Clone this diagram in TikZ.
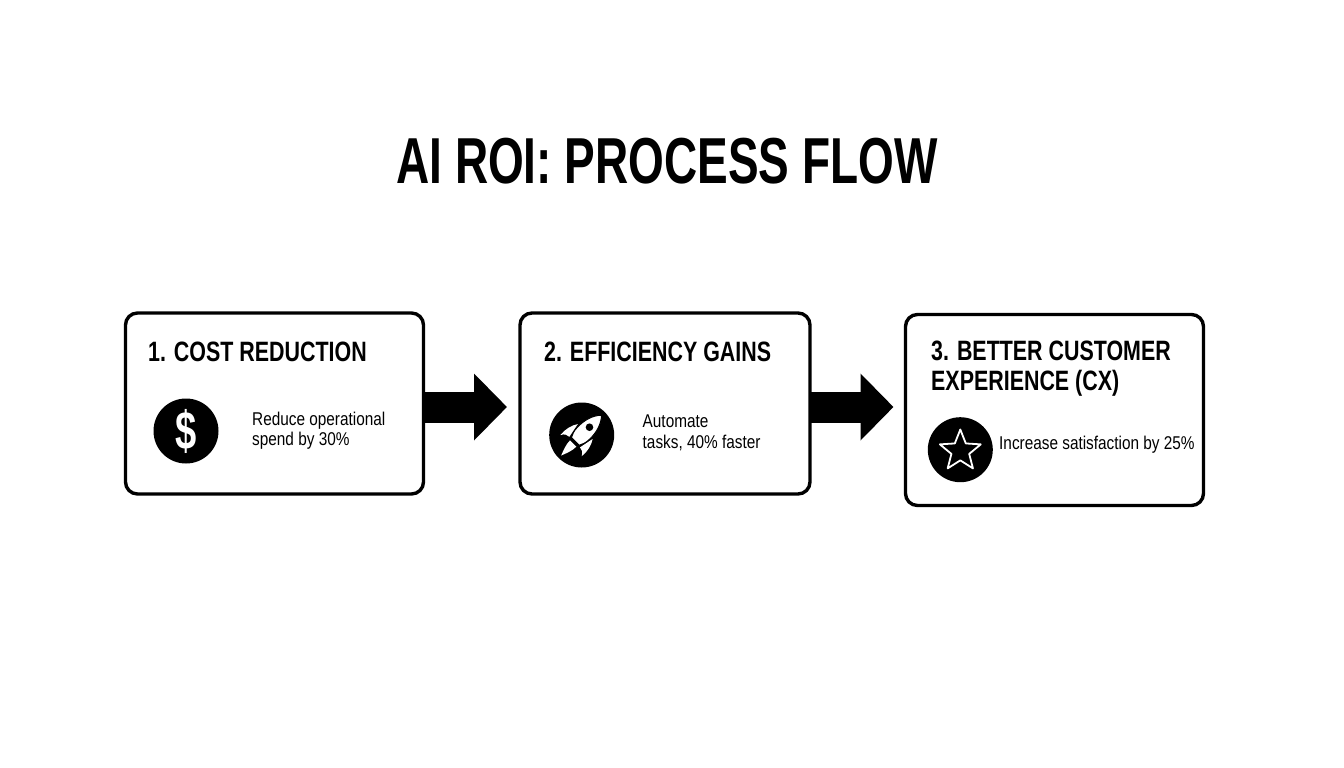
\documentclass[tikz,border=0pt]{standalone}
\usepackage{fontspec}
\setmainfont[FakeStretch=0.83]{Liberation Sans}
\newfontfamily\headfont[FakeStretch=0.765]{Liberation Sans Bold}
\newfontfamily\titlefont[FakeStretch=0.707]{Liberation Sans Bold}
\usetikzlibrary{arrows.meta,shapes.geometric}
\tikzset{
  x=1pt,y=-1pt,
  card/.style={draw=black,line width=3.4pt,rounded corners=12pt,fill=white},
  titletext/.style={anchor=base,inner sep=0pt,font=\titlefont\fontsize{65}{65}\selectfont,text=black},
  headtext/.style={anchor=base west,inner sep=0pt,align=left,font=\headfont\fontsize{28}{30}\selectfont,text=black},
  bodytext/.style={anchor=base west,inner sep=0pt,align=left,font=\fontsize{18.5}{20.3}\selectfont,text=black},
  disc/.style={circle,fill=black,minimum size=65pt,inner sep=0pt},
  flow/.style={line width=31pt,-{Triangle[length=33pt,width=65pt]},draw=black}
}
\begin{document}
\begin{tikzpicture}
\useasboundingbox (0,0) rectangle (1344,768);
\fill[white] (0,0) rectangle (1344,768);
\node[titletext] (title) at (667,183) {AI ROI: PROCESS FLOW};
% cards
\node[card,minimum width=298pt,minimum height=181pt,inner sep=0pt,outer sep=0pt] (b1) at (274.5,403.5) {};
\node[card,minimum width=290pt,minimum height=181pt,inner sep=0pt,outer sep=0pt] (b2) at (665,403.5) {};
\node[card,minimum width=298pt,minimum height=191pt,inner sep=0pt,outer sep=0pt] (b3) at (1054.5,410) {};
% connectors
\coordinate (ya) at (0,407);
\draw[flow,shorten >=13pt] (b1.east |- ya) -- (b2.west |- ya);
\draw[flow,shorten >=12pt] (b2.east |- ya) -- (b3.west |- ya);
% headings
\node[headtext] (h1) at (148,361) {1. COST REDUCTION};
\node[headtext] (h2) at (544,361) {2. EFFICIENCY GAINS};
\node[headtext] (h3a) at (931,360) {3. BETTER CUSTOMER};
\node[headtext] (h3b) at (931,390) {EXPERIENCE (CX)};
% icons
\node[disc] (i1) at (186,431) {};
\node[anchor=center,inner sep=0pt,text=white,font=\titlefont\fontsize{54}{54}\selectfont] (d) at (186,431) {\$};
\node[disc] (i2) at (581.7,435) {};
\begin{scope}[shift={(581.7,435)},rotate=-45]
  \fill[white] (-10.5,-5) .. controls (-14,0) and (-16,8) .. (-15,15)
     .. controls (-13,11) and (-10,10) .. (-7.5,10) -- cycle;
  \fill[white] (10.5,-5) .. controls (14,0) and (16,8) .. (15,15)
     .. controls (13,11) and (10,10) .. (7.5,10) -- cycle;
  \filldraw[fill=white,draw=black,line width=1pt] (0,-28) .. controls (6,-22) and (9,-12) .. (8.5,-2)
     .. controls (8.5,3) and (7,6) .. (5.5,9) -- (-5.5,9)
     .. controls (-7,6) and (-8.5,3) .. (-8.5,-2)
     .. controls (-9,-12) and (-6,-22) .. (0,-28) -- cycle;
  \fill[black] (0,-11) circle (3.8);
  \fill[white] (-4.5,12) -- (4.5,12) .. controls (4.5,18) and (2,24) .. (0,29)
     .. controls (-2,24) and (-4.5,18) .. (-4.5,12) -- cycle;
\end{scope}
\node[disc] (i3) at (960.3,449.7) {};
\node[star,star points=5,star point ratio=2.3,minimum size=43pt,inner sep=0pt,draw=white,line width=1.8pt,line join=round] (st) at (960.3,451) {};
% body text
\node[bodytext] (t1a) at (252,425) {Reduce operational};
\node[bodytext] (t1b) at (252,445) {spend by 30\%};
\node[bodytext] (t2a) at (642.5,427.7) {Automate};
\node[bodytext] (t2b) at (642.5,448) {tasks, 40\% faster};
\node[bodytext] (t3) at (999,449) {Increase satisfaction by 25\%};
\end{tikzpicture}
\end{document}
